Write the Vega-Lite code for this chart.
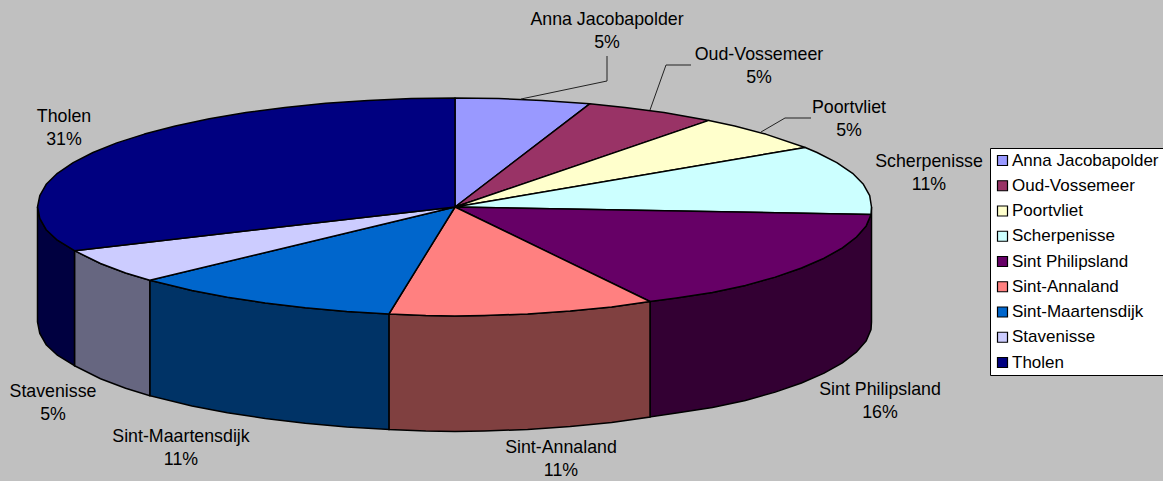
{
"$schema":"https://vega.github.io/schema/vega-lite/v6.json",
"width":1163,"height":481,"padding":0,"autosize":{"type":"none"},"background":"#FFFFFF",
"view":{"fill":"#C0C0C0","stroke":null},
"datasets":{
"top":[
{"s":"Anna Jacobapolder","x":455,"y":207},{"s":"Anna Jacobapolder","x":455,"y":98},{"s":"Anna Jacobapolder","x":498.7,"y":98.6},{"s":"Anna Jacobapolder","x":541.9,"y":100.4},{"s":"Anna Jacobapolder","x":589.7,"y":103.8},{"s":"Anna Jacobapolder","x":455,"y":207},
{"s":"Oud-Vossemeer","x":455,"y":207},{"s":"Oud-Vossemeer","x":589.7,"y":103.8},{"s":"Oud-Vossemeer","x":625,"y":107.4},{"s":"Oud-Vossemeer","x":664,"y":112.6},{"s":"Oud-Vossemeer","x":708.9,"y":120.4},{"s":"Oud-Vossemeer","x":455,"y":207},
{"s":"Poortvliet","x":455,"y":207},{"s":"Poortvliet","x":708.9,"y":120.4},{"s":"Poortvliet","x":734.7,"y":126},{"s":"Poortvliet","x":765.6,"y":134.1},{"s":"Poortvliet","x":805.2,"y":147.5},{"s":"Poortvliet","x":455,"y":207},
{"s":"Scherpenisse","x":455,"y":207},{"s":"Scherpenisse","x":805.2,"y":147.5},{"s":"Scherpenisse","x":817,"y":152.5},{"s":"Scherpenisse","x":836.8,"y":162.7},{"s":"Scherpenisse","x":852.6,"y":173.3},{"s":"Scherpenisse","x":863.4,"y":184.3},{"s":"Scherpenisse","x":869.7,"y":195.6},{"s":"Scherpenisse","x":871.5,"y":207},{"s":"Scherpenisse","x":871,"y":214.5},{"s":"Scherpenisse","x":455,"y":207},
{"s":"Sint Philipsland","x":455,"y":207},{"s":"Sint Philipsland","x":871,"y":214.5},{"s":"Sint Philipsland","x":866.2,"y":225.9},{"s":"Sint Philipsland","x":856.5,"y":237},{"s":"Sint Philipsland","x":842.4,"y":247.8},{"s":"Sint Philipsland","x":824.1,"y":258.2},{"s":"Sint Philipsland","x":801.5,"y":268},{"s":"Sint Philipsland","x":775.2,"y":277.1},{"s":"Sint Philipsland","x":745.4,"y":285.4},{"s":"Sint Philipsland","x":712.4,"y":292.5},{"s":"Sint Philipsland","x":676.5,"y":298},{"s":"Sint Philipsland","x":650,"y":301.5},{"s":"Sint Philipsland","x":455,"y":207},
{"s":"Sint-Annaland","x":455,"y":207},{"s":"Sint-Annaland","x":650,"y":301.5},{"s":"Sint-Annaland","x":611.6,"y":307},{"s":"Sint-Annaland","x":570.2,"y":311},{"s":"Sint-Annaland","x":527.6,"y":314},{"s":"Sint-Annaland","x":484.2,"y":315.5},{"s":"Sint-Annaland","x":455,"y":316},{"s":"Sint-Annaland","x":425.8,"y":315.5},{"s":"Sint-Annaland","x":388.9,"y":314},{"s":"Sint-Annaland","x":455,"y":207},
{"s":"Sint-Maartensdijk","x":455,"y":207},{"s":"Sint-Maartensdijk","x":388.9,"y":314},{"s":"Sint-Maartensdijk","x":346.8,"y":311.5},{"s":"Sint-Maartensdijk","x":305.2,"y":307.8},{"s":"Sint-Maartensdijk","x":265.2,"y":303},{"s":"Sint-Maartensdijk","x":227.4,"y":297.2},{"s":"Sint-Maartensdijk","x":192,"y":290.5},{"s":"Sint-Maartensdijk","x":149.8,"y":280.3},{"s":"Sint-Maartensdijk","x":455,"y":207},
{"s":"Stavenisse","x":455,"y":207},{"s":"Stavenisse","x":149.8,"y":280.3},{"s":"Stavenisse","x":125.6,"y":273},{"s":"Stavenisse","x":100.5,"y":263.5},{"s":"Stavenisse","x":74.5,"y":250.7},{"s":"Stavenisse","x":455,"y":207},
{"s":"Tholen","x":455,"y":207},{"s":"Tholen","x":74.5,"y":250.7},{"s":"Tholen","x":57.4,"y":240.2},{"s":"Tholen","x":46.2,"y":229.7},{"s":"Tholen","x":39.8,"y":218.4},{"s":"Tholen","x":37.5,"y":207},{"s":"Tholen","x":39.8,"y":195.6},{"s":"Tholen","x":46.2,"y":184.3},{"s":"Tholen","x":57.4,"y":173.3},{"s":"Tholen","x":73.2,"y":162.7},{"s":"Tholen","x":93,"y":152.5},{"s":"Tholen","x":116.8,"y":142.9},{"s":"Tholen","x":144.4,"y":134.1},{"s":"Tholen","x":175.3,"y":126},{"s":"Tholen","x":209.3,"y":118.8},{"s":"Tholen","x":246,"y":112.6},{"s":"Tholen","x":285,"y":107.4},{"s":"Tholen","x":325.8,"y":103.3},{"s":"Tholen","x":368.1,"y":100.4},{"s":"Tholen","x":411.3,"y":98.6},{"s":"Tholen","x":455,"y":98},{"s":"Tholen","x":455,"y":207}
],
"wall":[
{"s":"Sint Philipsland","x":871.5,"y":207,"y2":322},{"s":"Sint Philipsland","x":871,"y":214.5,"y2":329.5},{"s":"Sint Philipsland","x":866.2,"y":225.9,"y2":340.9},{"s":"Sint Philipsland","x":856.5,"y":237,"y2":352},{"s":"Sint Philipsland","x":842.4,"y":247.8,"y2":362.8},{"s":"Sint Philipsland","x":824.1,"y":258.2,"y2":373.2},{"s":"Sint Philipsland","x":801.5,"y":268,"y2":383},{"s":"Sint Philipsland","x":775.2,"y":277.1,"y2":392.1},{"s":"Sint Philipsland","x":745.4,"y":285.4,"y2":400.4},{"s":"Sint Philipsland","x":712.4,"y":292.5,"y2":407.5},{"s":"Sint Philipsland","x":676.5,"y":298,"y2":413},{"s":"Sint Philipsland","x":650,"y":301.5,"y2":417},
{"s":"Sint-Annaland","x":650,"y":301.5,"y2":417},{"s":"Sint-Annaland","x":611.6,"y":307,"y2":422.5},{"s":"Sint-Annaland","x":570.2,"y":311,"y2":426.5},{"s":"Sint-Annaland","x":527.6,"y":314,"y2":429.5},{"s":"Sint-Annaland","x":484.2,"y":315.5,"y2":431},{"s":"Sint-Annaland","x":455,"y":316,"y2":431.5},{"s":"Sint-Annaland","x":425.8,"y":315.5,"y2":431},{"s":"Sint-Annaland","x":388.9,"y":314,"y2":429.5},
{"s":"Sint-Maartensdijk","x":388.9,"y":314,"y2":429.5},{"s":"Sint-Maartensdijk","x":346.8,"y":311.5,"y2":427},{"s":"Sint-Maartensdijk","x":305.2,"y":307.8,"y2":423.3},{"s":"Sint-Maartensdijk","x":265.2,"y":303,"y2":418.5},{"s":"Sint-Maartensdijk","x":227.4,"y":297.2,"y2":412.7},{"s":"Sint-Maartensdijk","x":192,"y":290.5,"y2":406},{"s":"Sint-Maartensdijk","x":149.8,"y":280.3,"y2":395.7},
{"s":"Stavenisse","x":149.8,"y":280.3,"y2":395.7},{"s":"Stavenisse","x":125.6,"y":273,"y2":388.3},{"s":"Stavenisse","x":100.5,"y":263.5,"y2":378.7},{"s":"Stavenisse","x":74.5,"y":250.7,"y2":365.7},
{"s":"Tholen","x":74.5,"y":250.7,"y2":365.7},{"s":"Tholen","x":57.4,"y":240.2,"y2":355.2},{"s":"Tholen","x":46.2,"y":229.7,"y2":344.7},{"s":"Tholen","x":39.8,"y":218.4,"y2":333.4},{"s":"Tholen","x":37.5,"y":207,"y2":322}
],
"leaders":[
{"s":"a","x":521,"y":99},{"s":"a","x":607,"y":81},{"s":"a","x":607,"y":56},
{"s":"b","x":650,"y":110},{"s":"b","x":666,"y":65},{"s":"b","x":691,"y":65},
{"s":"c","x":761,"y":132},{"s":"c","x":785,"y":118},{"s":"c","x":811,"y":118}
],
"labels":[
{"t":"Anna Jacobapolder\n5%","x":607,"y":25},
{"t":"Oud-Vossemeer\n5%","x":759,"y":60},
{"t":"Poortvliet\n5%","x":849,"y":113},
{"t":"Scherpenisse\n11%","x":929,"y":167},
{"t":"Sint Philipsland\n16%","x":880,"y":395},
{"t":"Sint-Annaland\n11%","x":561,"y":453},
{"t":"Sint-Maartensdijk\n11%","x":181,"y":442},
{"t":"Stavenisse\n5%","x":53,"y":397},
{"t":"Tholen\n31%","x":64,"y":122}
]
},
"encoding":{
"x":{"field":"x","type":"quantitative","scale":{"domain":[0,1163]},"axis":null},
"y":{"field":"y","type":"quantitative","scale":{"domain":[481,0]},"axis":null}
},
"layer":[
{"data":{"name":"wall"},
 "mark":{"type":"area","stroke":"#000000","strokeWidth":1.5,"opacity":1},
 "encoding":{"y2":{"field":"y2"},
  "color":{"field":"s","type":"nominal","legend":null,"scale":{"domain":["Sint Philipsland","Sint-Annaland","Sint-Maartensdijk","Stavenisse","Tholen"],"range":["#330033","#804040","#003366","#666680","#000040"]}}}},
{"data":{"name":"top"},
 "mark":{"type":"line","stroke":"#000000","strokeWidth":1.5,"strokeJoin":"round"},
 "encoding":{"order":{"value":null},"detail":{"field":"s"},
  "fill":{"field":"s","type":"nominal",
   "scale":{"domain":["Anna Jacobapolder","Oud-Vossemeer","Poortvliet","Scherpenisse","Sint Philipsland","Sint-Annaland","Sint-Maartensdijk","Stavenisse","Tholen"],"range":["#9999FF","#993366","#FFFFCC","#CCFFFF","#660066","#FF8080","#0066CC","#CCCCFF","#000080"]},
   "legend":{"title":null,"orient":"none","legendX":990,"legendY":148,"padding":4,"fillColor":"#FFFFFF","strokeColor":"#000000","symbolType":"square","symbolSize":100,"symbolStrokeColor":"#000000","symbolStrokeWidth":1.2,"labelFont":"Liberation Sans","labelFontSize":17,"labelColor":"#000000","rowPadding":7.25,"labelOffset":1,"labelLimit":170,"symbolOpacity":1}}}},
{"data":{"name":"leaders"},
 "mark":{"type":"line","stroke":"#222222","strokeWidth":1},
 "encoding":{"order":{"value":null},"detail":{"field":"s"}}},
{"data":{"name":"labels"},
 "mark":{"type":"text","font":"Liberation Sans","fontSize":17.8,"color":"#000000","lineBreak":"\n","lineHeight":23,"align":"center","baseline":"alphabetic"},
 "encoding":{"text":{"field":"t"}}}
],
"resolve":{"scale":{"color":"independent","fill":"independent"}}
}
